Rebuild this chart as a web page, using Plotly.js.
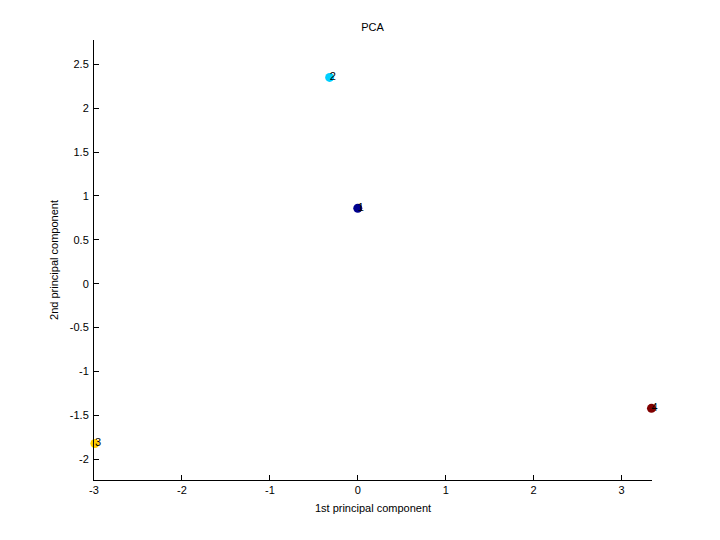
<!DOCTYPE html>
<html><head><meta charset="utf-8">
<script src="https://cdn.plot.ly/plotly-3.0.1.min.js"></script>
<style>body{margin:0;background:#fff}#c{width:720px;height:540px}</style>
</head><body><div id="c"></div>
<script>
const labels = ["1", "2", "3", "4"];
const pc1 = [0.0, -0.32, -2.99, 3.34];
const pc2 = [0.86, 2.35, -1.82, -1.42];
const colors = ["#00008F", "#00CFFF", "#FFCF00", "#800000"];
const xTicks = [-3, -2, -1, 0, 1, 2, 3];
const yTicks = [-2, -1.5, -1, -0.5, 0, 0.5, 1, 1.5, 2, 2.5];

const font = {family: "Liberation Sans, Arial, sans-serif", size: 11, color: "#000"};
const traces = [
  {x: pc1, y: pc2, mode: "markers", type: "scatter",
   marker: {color: colors, size: 9}, hoverinfo: "none", cliponaxis: false},
  {x: pc1, y: pc2, mode: "text", type: "scatter", text: labels,
   textposition: "middle right", marker: {size: 1},
   textfont: {family: font.family, size: 11, color: "#000"}, hoverinfo: "none", cliponaxis: false}
];
const axisBase = {showgrid: false, zeroline: false, showline: true, linecolor: "#000", linewidth: 1,
  ticks: "inside", ticklen: 5, tickcolor: "#000", tickfont: font, mirror: false};
const layout = {
  width: 720, height: 540, showlegend: false,
  paper_bgcolor: "#fff", plot_bgcolor: "#fff",
  margin: {l: 94, r: 68, t: 40, b: 60},
  font: font,
  title: {text: "PCA", font: {family: font.family, size: 11}, x: 0.5175, xanchor: "center", y: 0.95, yanchor: "middle"},
  xaxis: Object.assign({}, axisBase, {range: [-3.0, 3.346], tickvals: xTicks, ticktext: xTicks.map(String),
    title: {text: "1st principal component", font: font, standoff: 9}}),
  yaxis: Object.assign({}, axisBase, {range: [-2.236, 2.776], tickvals: yTicks, ticktext: yTicks.map(String),
    ticklabelstandoff: 2,
    title: {text: "2nd principal component", font: font, standoff: 8}})
};
Plotly.newPlot("c", traces, layout, {staticPlot: true});
</script></body></html>
